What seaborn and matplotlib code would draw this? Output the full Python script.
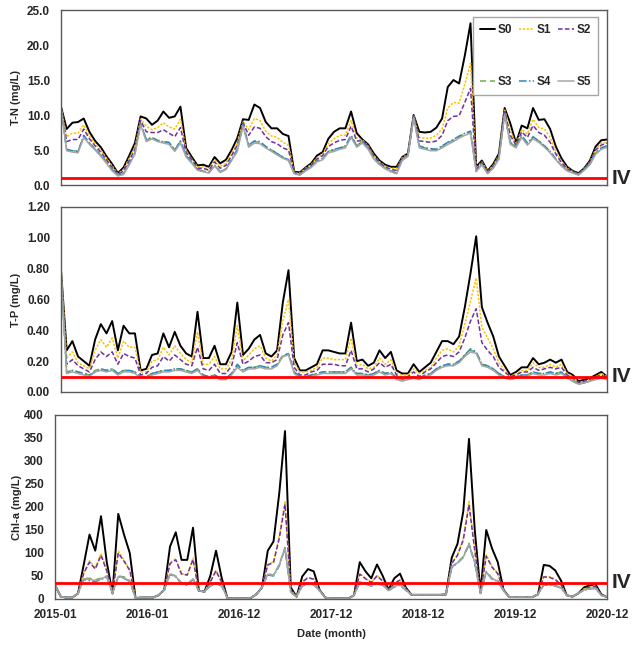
import numpy as np
import pandas as pd
import seaborn as sns
import matplotlib.pyplot as plt

# tick labels along the shared time axis
date_labels = ["2015-01", "2016-01", "2016-12", "2017-12", "2018-12", "2019-12", "2020-12"]
series_names = ["S0", "S1", "S2", "S3", "S4", "S5"]

# T-N (mg/L)
tn_s0 = [11.2, 8.0, 8.9, 9.0, 9.5, 7.6, 6.3, 5.4, 4.1, 3.0,
         1.7, 2.5, 4.2, 6.0, 9.8, 9.5, 8.6, 9.2, 10.5, 9.6,
         9.8, 11.2, 5.3, 4.0, 2.8, 2.9, 2.6, 4.0, 3.1, 3.6,
         5.0, 6.7, 9.4, 9.3, 11.5, 11.0, 9.0, 8.1, 8.1, 7.3,
         7.0, 1.9, 1.8, 2.5, 3.1, 4.2, 4.7, 6.6, 7.6, 8.1,
         8.1, 10.5, 7.4, 6.5, 5.8, 4.5, 3.5, 2.9, 2.6, 2.6,
         4.0, 4.5, 10.0, 7.6, 7.5, 7.6, 8.2, 9.5, 14.0, 15.0,
         14.5, 18.5, 23.1, 2.6, 3.5, 2.0, 3.0, 4.5, 11.0, 8.8,
         6.0, 8.5, 8.1, 11.0, 9.3, 9.4, 8.0, 5.5, 3.8, 2.6,
         2.0, 1.7, 2.4, 3.5, 5.5, 6.4, 6.5]
tn_s1 = [11.1, 6.9, 7.4, 7.4, 8.6, 7.0, 5.9, 5.0, 3.8, 2.7,
         1.6, 2.2, 3.8, 5.4, 9.4, 8.4, 7.9, 8.2, 8.9, 8.3,
         8.0, 9.4, 4.9, 3.7, 2.6, 2.6, 2.3, 3.6, 2.7, 3.1,
         4.5, 6.1, 9.1, 7.9, 9.5, 9.2, 7.7, 7.0, 6.8, 6.1,
         5.7, 1.8, 1.7, 2.4, 2.9, 3.9, 4.4, 5.9, 6.6, 7.1,
         7.1, 9.2, 6.7, 6.4, 5.6, 4.2, 3.3, 2.7, 2.4, 2.3,
         3.9, 4.4, 9.9, 6.8, 6.7, 6.7, 7.1, 8.0, 11.0, 11.8,
         11.7, 14.4, 17.4, 2.4, 3.3, 1.9, 2.8, 4.2, 10.7, 7.8,
         5.8, 7.9, 7.3, 9.4, 8.2, 8.0, 6.8, 4.8, 3.4, 2.4,
         1.9, 1.6, 2.3, 3.3, 5.1, 6.0, 6.1]
tn_s2 = [11.1, 6.2, 6.5, 6.5, 8.0, 6.6, 5.6, 4.7, 3.6, 2.5,
         1.5, 2.0, 3.5, 5.1, 9.2, 7.6, 7.5, 7.5, 7.9, 7.4,
         6.9, 8.2, 4.6, 3.6, 2.4, 2.4, 2.1, 3.3, 2.4, 2.8,
         4.2, 5.7, 8.9, 7.1, 8.3, 8.1, 6.9, 6.2, 5.9, 5.3,
         5.0, 1.8, 1.6, 2.3, 2.8, 3.7, 4.2, 5.5, 6.0, 6.4,
         6.5, 8.4, 6.3, 6.3, 5.5, 4.1, 3.2, 2.6, 2.2, 2.1,
         3.8, 4.3, 9.9, 6.3, 6.2, 6.1, 6.3, 7.1, 9.2, 9.8,
         9.9, 11.8, 13.8, 2.2, 3.2, 1.8, 2.7, 4.1, 10.5, 7.1,
         5.7, 7.6, 6.8, 8.5, 7.5, 7.1, 6.1, 4.4, 3.2, 2.3,
         1.9, 1.6, 2.3, 3.2, 5.0, 5.7, 6.0]
tn_s3 = [11.0, 5.0, 4.9, 4.8, 7.0, 6.0, 5.2, 4.3, 3.3, 2.2,
         1.4, 1.6, 3.0, 4.5, 8.8, 6.4, 6.8, 6.4, 6.2, 6.0,
         5.0, 6.2, 4.2, 3.3, 2.2, 2.0, 1.8, 2.8, 1.9, 2.3,
         3.6, 5.0, 8.6, 5.6, 6.2, 6.1, 5.5, 5.0, 4.5, 4.0,
         3.6, 1.7, 1.5, 2.1, 2.6, 3.4, 3.8, 4.8, 5.0, 5.3,
         5.5, 7.0, 5.6, 6.2, 5.3, 3.8, 3.0, 2.4, 2.0, 1.7,
         3.6, 4.2, 9.8, 5.5, 5.3, 5.1, 5.1, 5.5, 6.0, 6.4,
         6.9, 7.3, 7.6, 2.0, 3.0, 1.7, 2.5, 3.8, 10.2, 6.0,
         5.5, 7.0, 5.9, 6.8, 6.3, 5.6, 4.8, 3.7, 2.8, 2.1,
         1.8, 1.5, 2.2, 3.0, 4.6, 5.3, 5.6]
tn_s4 = [11.0, 5.1, 4.9, 4.8, 7.1, 6.0, 5.1, 4.2, 3.3, 2.2,
         1.4, 1.6, 3.1, 4.6, 8.8, 6.5, 6.8, 6.3, 6.2, 6.1,
         5.0, 6.3, 4.2, 3.2, 2.2, 2.0, 1.8, 2.8, 1.9, 2.3,
         3.7, 5.1, 8.7, 5.7, 6.3, 6.2, 5.5, 5.0, 4.5, 4.0,
         3.6, 1.7, 1.5, 2.1, 2.6, 3.4, 3.8, 4.8, 5.1, 5.3,
         5.6, 7.1, 5.6, 6.2, 5.3, 3.8, 3.0, 2.4, 2.0, 1.7,
         3.7, 4.2, 9.8, 5.6, 5.3, 5.2, 5.1, 5.6, 6.1, 6.5,
         7.0, 7.4, 7.7, 2.0, 3.0, 1.7, 2.5, 3.9, 10.2, 6.1,
         5.5, 7.1, 6.0, 6.9, 6.3, 5.6, 4.8, 3.7, 2.8, 2.1,
         1.8, 1.5, 2.2, 3.0, 4.6, 5.3, 5.6]
tn_s5 = [11.0, 4.9, 4.7, 4.6, 6.8, 5.8, 5.0, 4.1, 3.1, 2.0,
         1.3, 1.5, 2.9, 4.4, 8.6, 6.2, 6.6, 6.2, 6.0, 5.8,
         4.8, 6.0, 4.0, 3.1, 2.1, 1.9, 1.7, 2.7, 1.8, 2.2,
         3.5, 4.8, 8.4, 5.4, 6.0, 5.9, 5.3, 4.8, 4.3, 3.8,
         3.5, 1.6, 1.4, 2.0, 2.5, 3.3, 3.6, 4.6, 4.8, 5.1,
         5.3, 6.8, 5.4, 6.0, 5.1, 3.7, 2.9, 2.3, 1.9, 1.6,
         3.5, 4.1, 9.6, 5.3, 5.1, 4.9, 4.9, 5.3, 5.8, 6.2,
         6.7, 7.1, 7.4, 1.9, 2.9, 1.6, 2.4, 3.7, 10.0, 5.8,
         5.3, 6.8, 5.7, 6.6, 6.1, 5.4, 4.6, 3.6, 2.7, 2.0,
         1.7, 1.4, 2.1, 2.9, 4.4, 5.1, 5.4]

# T-P (mg/L)
tp_s0 = [.79, .27, .33, .23, .20, .17, .34, .44, .38, .46,
         .27, .43, .38, .38, .14, .15, .24, .25, .38, .29,
         .39, .30, .25, .23, .52, .22, .22, .30, .18, .18,
         .26, .58, .24, .28, .34, .37, .25, .23, .27, .58,
         .79, .22, .14, .14, .16, .18, .27, .27, .26, .25,
         .25, .45, .20, .21, .17, .19, .27, .22, .26, .14,
         .12, .12, .18, .13, .16, .19, .26, .33, .33, .31,
         .36, .55, .77, 1.01, .55, .45, .36, .23, .17, .11,
         .13, .16, .16, .22, .18, .19, .21, .19, .21, .13,
         .11, .07, .08, .09, .11, .13, .10]
tp_s1 = [.79, .22, .26, .19, .17, .15, .27, .34, .29, .35,
         .22, .33, .29, .29, .13, .13, .20, .21, .29, .24,
         .30, .25, .21, .19, .39, .18, .18, .23, .15, .15,
         .21, .43, .20, .24, .28, .30, .22, .20, .24, .46,
         .60, .19, .13, .13, .14, .16, .22, .22, .21, .21,
         .21, .35, .17, .18, .15, .16, .22, .18, .21, .12,
         .11, .11, .15, .12, .14, .16, .22, .27, .28, .26,
         .30, .44, .59, .74, .42, .35, .28, .19, .14, .10,
         .12, .14, .14, .19, .16, .16, .18, .16, .18, .12,
         .10, .06, .07, .08, .10, .12, .10]
tp_s2 = [.78, .18, .21, .17, .15, .13, .21, .26, .23, .26,
         .18, .25, .23, .22, .11, .12, .16, .17, .23, .20,
         .24, .21, .18, .17, .29, .15, .14, .18, .12, .12,
         .17, .32, .18, .20, .23, .24, .19, .19, .21, .37,
         .45, .16, .11, .11, .13, .14, .18, .18, .18, .17,
         .17, .27, .15, .15, .13, .15, .19, .16, .18, .11,
         .09, .10, .13, .10, .13, .15, .19, .23, .24, .23,
         .26, .35, .46, .54, .32, .27, .23, .16, .13, .10,
         .11, .13, .13, .16, .14, .15, .16, .15, .16, .11,
         .09, .06, .07, .08, .10, .11, .09]
tp_s3 = [.78, .13, .14, .13, .12, .11, .14, .15, .14, .15,
         .12, .14, .14, .13, .10, .10, .12, .13, .14, .14,
         .15, .15, .14, .13, .15, .11, .10, .11, .09, .09,
         .12, .17, .14, .16, .16, .17, .16, .16, .18, .24,
         .25, .13, .10, .10, .11, .12, .13, .13, .13, .13,
         .13, .16, .12, .12, .11, .12, .14, .12, .13, .09,
         .08, .09, .10, .09, .11, .12, .15, .17, .18, .18,
         .20, .24, .27, .26, .18, .17, .15, .12, .10, .09,
         .10, .11, .11, .13, .12, .12, .13, .12, .13, .10,
         .08, .05, .06, .07, .09, .10, .09]
tp_s4 = [.77, .12, .14, .13, .12, .11, .13, .15, .14, .15,
         .12, .14, .14, .13, .10, .10, .12, .13, .14, .14,
         .15, .15, .14, .13, .15, .11, .10, .11, .09, .09,
         .12, .18, .14, .16, .16, .17, .16, .16, .18, .23,
         .25, .13, .10, .10, .11, .12, .13, .13, .13, .13,
         .13, .16, .12, .12, .11, .12, .14, .12, .13, .09,
         .08, .09, .10, .09, .11, .12, .15, .17, .18, .18,
         .20, .24, .28, .26, .18, .17, .15, .12, .10, .09,
         .10, .11, .11, .13, .12, .12, .13, .12, .13, .09,
         .07, .05, .06, .07, .09, .10, .09]
tp_s5 = [.77, .12, .13, .12, .11, .10, .13, .14, .13, .14,
         .11, .13, .13, .12, .09, .09, .11, .12, .13, .13,
         .14, .14, .13, .12, .14, .10, .09, .10, .08, .08,
         .11, .16, .13, .15, .15, .16, .15, .15, .17, .23,
         .24, .12, .09, .09, .10, .11, .12, .12, .12, .12,
         .12, .15, .11, .11, .10, .11, .13, .11, .12, .08,
         .07, .08, .09, .08, .10, .11, .14, .16, .17, .17,
         .19, .23, .26, .25, .17, .16, .14, .11, .09, .08,
         .09, .10, .10, .12, .11, .11, .12, .11, .12, .09,
         .07, .05, .06, .07, .08, .09, .08]

# Chl-a
chl_s0 = [30, 5, 3, 3, 12, 75, 140, 105, 180, 80,
          12, 185, 140, 100, 2, 3, 3, 3, 8, 20,
          114, 145, 85, 85, 155, 18, 16, 50, 105, 45,
          1, 1, 1, 1, 2, 10, 25, 105, 125, 230,
          365, 25, 5, 49, 65, 60, 20, 3, 1, 1,
          1, 1, 8, 80, 60, 45, 75, 50, 20, 45,
          55, 25, 9, 9, 9, 9, 9, 9, 10, 90,
          120, 190, 348, 150, 15, 150, 110, 80, 20, 4,
          4, 4, 4, 4, 10, 74, 72, 62, 40, 8,
          5, 12, 25, 30, 32, 10, 4]
chl_s1 = [30, 5, 3, 3, 12, 57, 83, 67, 99, 62,
          12, 104, 85, 64, 2, 3, 3, 3, 8, 20,
          79, 88, 55, 53, 89, 18, 16, 38, 63, 36,
          1, 1, 1, 1, 2, 10, 25, 75, 81, 137,
          213, 19, 5, 38, 47, 44, 19, 3, 1, 1,
          1, 1, 8, 55, 45, 36, 51, 39, 19, 35,
          41, 22, 9, 9, 9, 9, 9, 9, 10, 78,
          96, 131, 212, 108, 13, 96, 71, 56, 19, 4,
          4, 4, 4, 4, 10, 49, 48, 43, 31, 8,
          5, 12, 22, 26, 27, 9, 4]
chl_s2 = [30, 5, 3, 3, 12, 56, 80, 65, 95, 61,
          12, 100, 82, 62, 2, 3, 3, 3, 8, 20,
          77, 85, 54, 52, 86, 18, 16, 37, 61, 36,
          1, 1, 1, 1, 2, 10, 25, 74, 79, 132,
          206, 19, 5, 37, 46, 43, 19, 3, 1, 1,
          1, 1, 8, 54, 44, 36, 50, 39, 19, 34,
          41, 22, 9, 9, 9, 9, 9, 9, 10, 77,
          95, 128, 205, 106, 13, 93, 69, 55, 19, 4,
          4, 4, 4, 4, 10, 48, 47, 42, 31, 8,
          5, 12, 22, 26, 27, 9, 4]
chl_s3 = [30, 5, 3, 3, 12, 45, 45, 42, 45, 50,
          12, 50, 48, 40, 2, 3, 3, 3, 8, 20,
          55, 50, 35, 32, 45, 18, 16, 30, 35, 30,
          1, 1, 1, 1, 2, 10, 25, 55, 52, 75,
          112, 15, 5, 30, 35, 33, 18, 3, 1, 1,
          1, 1, 8, 38, 35, 30, 35, 32, 18, 28,
          32, 20, 9, 9, 9, 9, 9, 9, 10, 70,
          80, 92, 121, 80, 12, 60, 45, 40, 18, 4,
          4, 4, 4, 4, 10, 32, 32, 30, 25, 8,
          5, 12, 20, 23, 24, 8, 4]
chl_s4 = [30, 5, 3, 3, 12, 42, 40, 38, 42, 48,
          12, 48, 45, 38, 2, 3, 3, 3, 8, 20,
          53, 48, 33, 30, 42, 18, 16, 28, 33, 28,
          1, 1, 1, 1, 2, 10, 25, 52, 50, 72,
          110, 14, 5, 28, 33, 31, 18, 3, 1, 1,
          1, 1, 8, 35, 33, 28, 33, 30, 18, 26,
          30, 19, 9, 9, 9, 9, 9, 9, 10, 68,
          78, 90, 118, 78, 12, 58, 43, 38, 18, 4,
          4, 4, 4, 4, 10, 30, 30, 28, 24, 8,
          5, 12, 19, 22, 23, 8, 4]
chl_s5 = [30, 5, 3, 3, 12, 44, 43, 40, 44, 49,
          12, 49, 46, 39, 2, 3, 3, 3, 8, 20,
          54, 49, 34, 31, 44, 18, 16, 29, 34, 29,
          1, 1, 1, 1, 2, 10, 25, 54, 51, 74,
          111, 15, 5, 29, 34, 32, 18, 3, 1, 1,
          1, 1, 8, 37, 34, 29, 34, 31, 18, 27,
          31, 20, 9, 9, 9, 9, 9, 9, 10, 69,
          79, 91, 120, 79, 12, 59, 44, 39, 18, 4,
          4, 4, 4, 4, 10, 31, 31, 29, 24, 8,
          5, 12, 20, 22, 23, 8, 4]

# class IV standard for each variable
tn_limit = 1.0
tp_limit = 0.1
chl_limit = 35

palette = {"S0": "black", "S1": "#FFC000", "S2": "#7030A0",
           "S3": "#70AD47", "S4": "#2E86C1", "S5": "#A5A5A5"}
dash_map = {"S0": "", "S1": (1.5, 1), "S2": (3, 1.5),
            "S3": (4, 2.5), "S4": (5, 1.5, 1, 1.5), "S5": ""}
width_map = {"S0": 1.4, "S1": 1.1, "S2": 1.1, "S3": 1.1, "S4": 1.1, "S5": 1.1}

panels = [
    ("T-N (mg/L)", [tn_s0, tn_s1, tn_s2, tn_s3, tn_s4, tn_s5], tn_limit, 25, 5, "{:.1f}"),
    ("T-P (mg/L)", [tp_s0, tp_s1, tp_s2, tp_s3, tp_s4, tp_s5], tp_limit, 1.2, 0.2, "{:.2f}"),
    ("Chl-a (mg/L)", [chl_s0, chl_s1, chl_s2, chl_s3, chl_s4, chl_s5], chl_limit, 400, 50, "{:.0f}"),
]

sns.set_theme(style="white")
plt.rcParams["font.family"] = ["Liberation Sans", "DejaVu Sans"]
plt.rcParams["font.weight"] = "bold"
plt.rcParams["axes.labelweight"] = "bold"

fig = plt.figure(figsize=(6.42, 6.46), dpi=100)
# axes rectangles (left, bottom, width, height) in figure fraction
rects = [[0.095, 0.7136, 0.8505, 0.2709],
         [0.095, 0.3932, 0.8505, 0.2864],
         [0.0857, 0.0728, 0.8598, 0.2848]]
ylabel_x = [-0.074, -0.074, -0.059]

for k, (ylab, values, limit, ymax, ystep, fmt) in enumerate(panels):
    ax = fig.add_axes(rects[k])
    df = pd.DataFrame(dict(zip(series_names, values)))
    df["t"] = np.arange(len(df))
    long_df = df.melt(id_vars="t", var_name="series", value_name="value")

    sns.lineplot(data=long_df, x="t", y="value", hue="series", style="series",
                 size="series", palette=palette, dashes=dash_map, sizes=width_map,
                 estimator=None, legend=False, ax=ax)

    ax.axhline(limit, color="#FF0000", lw=2.0, zorder=5)
    ax.text(1.009, limit, "IV", transform=ax.get_yaxis_transform(),
            fontsize=15, fontweight="bold", ha="left", va="center")

    n = len(df)
    ax.set_xlim(0, n - 1)
    ax.set_ylim(0, ymax)
    yt = np.arange(0, ymax + ystep / 2, ystep)
    ax.set_yticks(yt)
    ax.set_yticklabels([fmt.format(v) for v in yt])
    ticks = np.linspace(0, n - 1, len(date_labels))
    ax.set_xticks(ticks)
    if k == 2:
        ax.set_xticklabels(date_labels)
        ax.set_xlabel("Date (month)", fontsize=8, fontweight="bold", labelpad=6)
    else:
        ax.set_xticklabels([])
        ax.set_xlabel("")
    ax.set_ylabel(ylab, fontsize=8, fontweight="bold")
    ax.yaxis.set_label_coords(ylabel_x[k], 0.5)
    ax.tick_params(axis="y", length=0, labelsize=8.5, pad=8)
    ax.tick_params(axis="x", length=0, labelsize=8.5, pad=7)
    for sp in ax.spines.values():
        sp.set_color("#595959")
        sp.set_linewidth(1.0)
    ax.grid(False)

    if k == 0:
        lines = ax.get_lines()[:6]
        order = [0, 3, 1, 4, 2, 5]
        ax.legend([lines[i] for i in order], [series_names[i] for i in order],
                  ncol=3, loc="upper right", bbox_to_anchor=(0.983, 0.96),
                  borderaxespad=0, frameon=True, fancybox=False,
                  edgecolor="#A6A6A6", framealpha=1, fontsize=8.5,
                  handlelength=1.3, handletextpad=0.2, columnspacing=0.6,
                  labelspacing=3.4, borderpad=0.6)

fig.savefig("out.png", dpi=100)
